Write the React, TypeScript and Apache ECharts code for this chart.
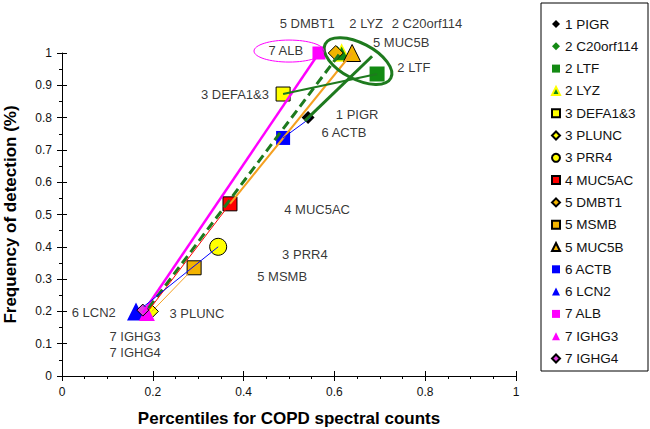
import React, { useEffect, useRef } from "react";
import * as echarts from "echarts";

// ---- data ----
const proteins = [
  "1 PIGR", "2 C20orf114", "2 LTF", "2 LYZ", "3 DEFA1&3", "3 PLUNC", "3 PRR4", "4 MUC5AC",
  "5 DMBT1", "5 MSMB", "5 MUC5B", "6 ACTB", "6 LCN2", "7 ALB", "7 IGHG3", "7 IGHG4",
];
const percentiles = [0.542, 0.606, 0.694, 0.616, 0.487, 0.198, 0.344, 0.370, 0.603, 0.291, 0.639, 0.487, 0.163, 0.566, 0.187, 0.178];
const frequencies = [0.80, 1.0, 0.935, 1.0, 0.873, 0.20, 0.40, 0.533, 1.0, 0.335, 1.0, 0.737, 0.20, 1.0, 0.195, 0.204];

// connecting segments [x1, y1, x2, y2]
const segMagenta = [0.566, 1.0, 0.178, 0.195];
const segGreenDashed = [0.610, 0.995, 0.185, 0.2];
const segOrange = [0.639, 1.0, 0.370, 0.533];
const segRed = [0.370, 0.533, 0.192, 0.205];
const segBlueLow = [0.344, 0.40, 0.18, 0.215];
const segOrangeLow = [0.291, 0.335, 0.198, 0.20];
const segBlueHigh = [0.487, 0.737, 0.548, 0.80];
const segGreenSolid = [0.535, 0.79, 0.683, 0.99];
const segGreenThin = [0.487, 0.873, 0.694, 0.935];

// label anchors (data coordinates)
const labelTexts = ["5 DMBT1", "2 LYZ", "2 C20orf114", "5 MUC5B", "2 LTF", "1 PIGR", "6 ACTB", "7 ALB", "3 DEFA1&3", "4 MUC5AC", "3 PRR4", "5 MSMB", "6 LCN2", "3 PLUNC", "7 IGHG3", "7 IGHG4"];
const labelX = [0.540, 0.670, 0.804, 0.747, 0.775, 0.650, 0.621, 0.493, 0.381, 0.562, 0.535, 0.485, 0.070, 0.297, 0.161, 0.161];
const labelY = [1.090, 1.090, 1.090, 1.034, 0.954, 0.811, 0.755, 1.009, 0.870, 0.514, 0.375, 0.307, 0.198, 0.195, 0.121, 0.074];

const xTicks = { min: 0, max: 1, interval: 0.2 };
const yTicks = { min: 0, max: 1, interval: 0.1 };

// ---- styles ----
const GREEN = "#138A13";
const DKGREEN = "#1E7A1E";
const GOLD = "#F3B400";
const YELLOW = "#FFFF00";
const styles: Record<string, any> = {
  "1 PIGR": { symbol: "diamond", size: 13, color: "#000", border: "#000", bw: 0 },
  "2 C20orf114": { symbol: "diamond", size: 14, color: GREEN, border: GREEN, bw: 0 },
  "2 LTF": { symbol: "rect", size: 15, color: GREEN, border: GREEN, bw: 0 },
  "2 LYZ": { symbol: "triangle", size: 16, color: GREEN, border: YELLOW, bw: 1.5 },
  "3 DEFA1&3": { symbol: "rect", size: 14, color: YELLOW, border: "#000", bw: 1 },
  "3 PLUNC": { symbol: "diamond", size: 13, color: YELLOW, border: "#000", bw: 1 },
  "3 PRR4": { symbol: "circle", size: 17, color: YELLOW, border: "#000", bw: 1 },
  "4 MUC5AC": { symbol: "rect", size: 14, color: "#FF0000", border: "#000", bw: 1 },
  "5 DMBT1": { symbol: "diamond", size: 15, color: GOLD, border: "#000", bw: 1 },
  "5 MSMB": { symbol: "rect", size: 14, color: GOLD, border: "#000", bw: 1 },
  "5 MUC5B": { symbol: "triangle", size: 17, color: GOLD, border: "#000", bw: 1 },
  "6 ACTB": { symbol: "rect", size: 14, color: "#0000FF", border: "#0000FF", bw: 0 },
  "6 LCN2": { symbol: "triangle", size: 18, color: "#0000FF", border: "#0000FF", bw: 0 },
  "7 ALB": { symbol: "rect", size: 13, color: "#FF00FF", border: "#FF00FF", bw: 0 },
  "7 IGHG3": { symbol: "triangle", size: 16, color: "#FF00FF", border: "#FF00FF", bw: 0 },
  "7 IGHG4": { symbol: "diamond", size: 12, color: "#E040E0", border: "#000", bw: 1 },
};

const FONT = "Arial, 'Liberation Sans', sans-serif";

function seg(name: string, s: number[], color: string, width: number, type: any = "solid") {
  return {
    name,
    type: "line",
    data: [[s[0], s[1]], [s[2], s[3]]],
    symbol: "none",
    silent: true,
    z: 5,
    lineStyle: { color, width, type },
  };
}

export default function App() {
  const ref = useRef<HTMLDivElement>(null);
  useEffect(() => {
    if (!ref.current) return;
    const chart = echarts.init(ref.current, null, { renderer: "svg" });
    const scatterSeries = proteins.map((p, i) => {
      const st = styles[p];
      return {
        name: p,
        type: "scatter",
        symbol: st.symbol,
        symbolSize: st.size,
        z: 3,
        clip: false,
        itemStyle: { color: st.color, borderColor: st.border, borderWidth: st.bw, opacity: 1 },
        data: [[percentiles[i], frequencies[i]]],
      };
    });
    const labelSeries = {
      name: "labels",
      type: "scatter",
      symbolSize: 1,
      clip: false,
      silent: true,
      z: 6,
      itemStyle: { color: "rgba(0,0,0,0)" },
      label: {
        show: true,
        position: "inside",
        formatter: (p: any) => p.data.name,
        color: "#000",
        fontSize: 13,
        fontFamily: FONT,
      },
      data: labelTexts.map((t, i) => ({ name: t, value: [labelX[i], labelY[i]] })),
    };
    const lineSeries = [
      seg("s1", segMagenta, "#FF00FF", 2.5),
      seg("s2", segGreenDashed, DKGREEN, 3, [9, 5]),
      seg("s3", segOrange, "#F5A020", 2),
      seg("s4", segRed, "#FF0000", 1),
      seg("s5", segBlueLow, "#0000FF", 1),
      seg("s6", segOrangeLow, "#F5A020", 1),
      seg("s7", segBlueHigh, "#0000FF", 1),
      seg("s8", segGreenSolid, DKGREEN, 3),
      seg("s9", segGreenThin, DKGREEN, 2),
    ];
    const axisCommon = {
      axisLine: { show: true, onZero: false, lineStyle: { color: "#000", width: 1 } },
      axisTick: { show: true, length: 5, lineStyle: { color: "#000" } },
      minorTick: { show: true, length: 3, lineStyle: { color: "#000" } },
      splitLine: { show: false },
      axisLabel: { color: "#111", fontSize: 12, fontFamily: FONT, margin: 10 },
      nameTextStyle: { color: "#000", fontSize: 17, fontWeight: "bold", fontFamily: FONT },
    };
    const innerTicks = {
      axisLine: { show: false, onZero: false },
      axisTick: { show: true, inside: true, length: 5, lineStyle: { color: "#000" } },
      minorTick: { show: false },
      splitLine: { show: false },
      axisLabel: { show: false },
    };
    chart.setOption({
      animation: false,
      textStyle: { fontFamily: FONT },
      grid: { left: 62, right: 134, top: 53, bottom: 53, containLabel: false, outerBoundsMode: "none" },
      xAxis: [
        {
          type: "value", ...xTicks, ...axisCommon,
          minorTick: { ...axisCommon.minorTick, splitNumber: 4 },
          name: "Percentiles for COPD spectral counts",
          nameLocation: "middle", nameGap: 34,
        },
        { type: "value", position: "bottom", ...xTicks, ...innerTicks },
      ],
      yAxis: [
        {
          type: "value", ...yTicks, ...axisCommon,
          minorTick: { ...axisCommon.minorTick, splitNumber: 2 },
          name: "Frequency of detection (%)",
          nameLocation: "middle", nameGap: 43,
        },
        { type: "value", position: "left", ...yTicks, ...innerTicks },
      ],
      legend: {
        data: proteins,
        orient: "vertical",
        left: 546,
        top: 12,
        itemWidth: 8,
        itemHeight: 8,
        itemGap: 8.3,
        textStyle: { fontSize: 13.5, color: "#111", fontFamily: FONT },
      },
      series: [...scatterSeries, ...lineSeries, labelSeries],
    });
    const gc = chart.convertToPixel({ gridIndex: 0 }, [0.652, 0.975]) as number[];
    const mc = chart.convertToPixel({ gridIndex: 0 }, [0.500, 1.006]) as number[];
    chart.setOption({
      graphic: [
        { type: "rect", shape: { x: 541, y: 3, width: 107, height: 368 }, style: { fill: "none", stroke: "#000", lineWidth: 1 }, z: 10 },
        { type: "ellipse", x: gc[0], y: gc[1], rotation: -0.48, shape: { cx: 0, cy: 0, rx: 37, ry: 18 }, style: { fill: "none", stroke: DKGREEN, lineWidth: 3 }, z: 10 },
        { type: "ellipse", x: mc[0], y: mc[1], shape: { cx: 0, cy: 0, rx: 35, ry: 11 }, style: { fill: "none", stroke: "#FF00FF", lineWidth: 1 }, z: 10 },
      ],
    });
    return () => chart.dispose();
  }, []);
  return <div ref={ref} style={{ width: 650, height: 429, position: "absolute", left: 0, top: 0, background: "#fff" }} />;
}
